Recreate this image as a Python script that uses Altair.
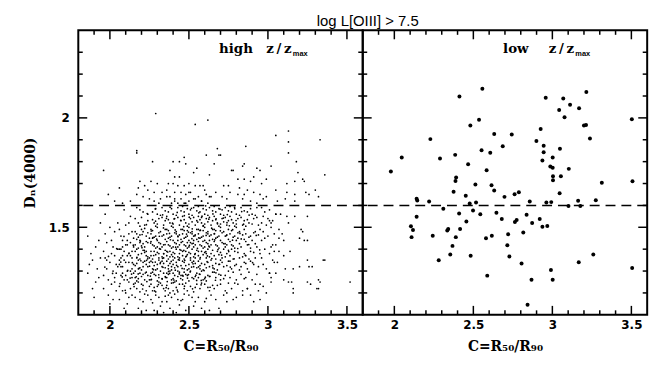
import altair as alt
import pandas as pd

title_text = ["log L[OIII] > 7.5"]
panel_words = ["high", "low"]
ratio_text = "z\u2009/\u2009z"
sub_text = "max"
x_title = "C=R\u2085\u2080/R\u2089\u2080"
y_title = "D\u2099(4000)"

x_domain = [1.8, 3.6]
y_domain = [1.1, 2.4]
x_major = [2.0, 2.5, 3.0, 3.5]
x_minor = [1.9, 2.1, 2.2, 2.3, 2.4, 2.6, 2.7, 2.8, 2.9, 3.1, 3.2, 3.3, 3.4]
y_major = [1.5, 2.0]
y_minor = [1.2, 1.3, 1.4, 1.6, 1.7, 1.8, 1.9, 2.1, 2.2, 2.3]
dash_level = [1.6]

# ---- high z/zmax panel ----
hi_top = [(2.29,2.02),(2.54,1.97),(2.62,1.99),(2.17,1.85),(3.05,1.92),(3.13,1.94),(3.13,1.89),(3.33,1.90),(2.86,1.87),(2.68,1.86),
          (2.27,1.80),(2.40,1.80),(2.44,1.80),(2.47,1.82),(2.48,1.79),(2.61,1.83),(2.69,1.83),(2.66,1.79),(2.85,1.79),(2.84,1.78),
          (2.78,1.76),(2.93,1.77),(2.95,1.76),(3.13,1.84),(3.18,1.80),(1.96,1.76),(2.38,1.76),(2.55,1.77),(3.02,1.78),(2.17,1.84),
          (2.70,1.83),(2.53,1.75),(3.19,1.75),(2.77,1.76)]
hi_upper = [(2.41,1.73),(2.44,1.73),(2.63,1.74),(2.19,1.71),(2.22,1.69),(2.26,1.71),(2.30,1.70),(2.37,1.70),(2.40,1.70),(2.43,1.69),
            (2.47,1.69),(2.50,1.70),(2.54,1.69),(2.57,1.69),(2.59,1.69),(2.06,1.68),(2.18,1.68),(2.24,1.67),(2.28,1.66),(2.33,1.66),
            (2.36,1.67),(2.41,1.66),(2.45,1.66),(2.48,1.65),(2.51,1.66),(2.56,1.64),(2.61,1.65),(2.64,1.64),(2.67,1.66),(1.99,1.65),
            (2.17,1.65),(2.21,1.64),(2.25,1.63),(2.32,1.63),(2.36,1.64),(2.41,1.63),(2.45,1.63),(2.50,1.62),(2.54,1.63),(2.58,1.62),
            (2.62,1.61),(2.03,1.62),(2.08,1.61),(2.13,1.62),(2.39,1.61),(2.43,1.61),(2.47,1.61),(3.36,1.74),(2.91,1.73),(2.99,1.72),
            (2.89,1.71),(2.85,1.72),(2.81,1.72),(2.96,1.70),(3.17,1.71),(3.22,1.72),(3.23,1.71),(3.12,1.70),(2.75,1.69),(2.72,1.69),
            (2.82,1.68),(2.87,1.67),(3.05,1.67),(3.12,1.66),(3.17,1.65),(3.24,1.66),(3.30,1.67),(3.26,1.65),(3.32,1.64),(2.76,1.66),
            (2.81,1.65),(2.85,1.65),(2.91,1.66),(2.95,1.65),(2.99,1.64),(2.71,1.64),(2.74,1.63),(2.84,1.63),(2.89,1.62),(2.97,1.63),
            (3.06,1.62),(3.11,1.63),(3.17,1.62),(2.93,1.61)]
hi_tail = [(3.01,1.53),(3.05,1.56),(3.08,1.56),(3.12,1.55),(3.17,1.55),(3.25,1.55),(3.02,1.52),(3.07,1.49),(3.21,1.49),(3.22,1.48),
           (3.20,1.45),(3.25,1.44),(3.23,1.44),(3.07,1.45),(3.10,1.44),(3.05,1.42),(3.02,1.41),(3.07,1.39),(3.10,1.37),(3.14,1.39),
           (3.35,1.35),(3.25,1.35),(3.20,1.32),(3.26,1.32),(3.28,1.32),(3.16,1.31),(3.11,1.31),(3.01,1.29),(3.05,1.29),(3.02,1.25),
           (3.10,1.26),(3.13,1.25),(3.16,1.22),(3.16,1.20),(3.25,1.25),(3.27,1.24),(3.32,1.26),(3.32,1.22),(3.52,1.25),(2.95,1.24),
           (2.87,1.22),(2.89,1.19),(2.84,1.19),(2.95,1.17),(2.91,1.16),(2.74,1.20),(3.36,1.35),(3.33,1.25),(3.15,1.25),(3.31,1.22),
           (3.09,1.47),(3.13,1.52),(3.06,1.34)]
hi_s19 = [(1.87,1.33),(1.91,1.41),(1.93,1.27),(1.89,1.22),(1.94,1.36),(1.86,1.46),(1.92,1.31),(1.90,1.18),(1.88,1.38),(1.94,1.52),
          (1.91,1.25),(1.93,1.44),(1.86,1.29),(1.89,1.35)]
hi_s20 = [(1.96,1.28),(2.02,1.41),(1.99,1.19),(2.04,1.33),(1.97,1.47),(2.01,1.24),(2.03,1.37),(1.98,1.31),(2.05,1.52),(2.00,1.15),
          (1.96,1.39),(2.03,1.27),(2.01,1.44),(1.98,1.35),(2.04,1.21),(2.02,1.30),(1.97,1.56),(2.05,1.40),(1.99,1.26),(2.03,1.48),
          (2.00,1.34),(1.96,1.22),(2.04,1.29),(2.01,1.38),(1.98,1.43),(2.02,1.17),(2.05,1.32),(1.97,1.36),(2.00,1.50),(2.03,1.25)]
hi_s21 = [(2.06,1.33),(2.11,1.42),(2.14,1.27),(2.08,1.21),(2.12,1.38),(2.07,1.46),(2.13,1.30),(2.09,1.35),(2.15,1.24),(2.10,1.51),
          (2.06,1.40),(2.12,1.18),(2.14,1.36),(2.08,1.29),(2.11,1.44),(2.07,1.32),(2.13,1.55),(2.09,1.26),(2.15,1.41),(2.10,1.34),
          (2.06,1.23),(2.12,1.47),(2.14,1.31),(2.08,1.37),(2.11,1.15),(2.07,1.28),(2.13,1.43),(2.09,1.39),(2.15,1.33),(2.10,1.20),
          (2.06,1.49),(2.12,1.25),(2.14,1.39),(2.08,1.44),(2.11,1.30),(2.07,1.36),(2.13,1.22),(2.09,1.58),(2.15,1.29),(2.10,1.42),
          (2.06,1.17),(2.12,1.34),(2.14,1.48),(2.08,1.32),(2.11,1.26),(2.07,1.40),(2.13,1.37),(2.09,1.13),(2.15,1.45),(2.10,1.28),
          (2.06,1.35),(2.12,1.52),(2.14,1.19),(2.08,1.41),(2.11,1.37)]
hi_s22 = [(2.18,1.13),(2.23,1.12),(2.16,1.18),(2.21,1.16),(2.24,1.19),(2.19,1.17),(2.22,1.195),(2.17,1.22),(2.20,1.24),(2.23,1.21),
          (2.16,1.245),(2.25,1.23),(2.19,1.205),(2.21,1.235),(2.18,1.25),(2.16,1.27),(2.19,1.29),(2.22,1.26),(2.24,1.28),(2.17,1.255),
          (2.20,1.275),(2.23,1.295),(2.18,1.265),(2.21,1.285),(2.25,1.26),(2.16,1.30),(2.18,1.31),(2.21,1.34),(2.24,1.32),(2.17,1.335),
          (2.20,1.305),(2.22,1.345),(2.16,1.325),(2.19,1.315),(2.23,1.33),(2.25,1.34),(2.18,1.35),(2.21,1.32),(2.17,1.36),(2.20,1.38),
          (2.23,1.37),(2.16,1.39),(2.19,1.355),(2.22,1.385),(2.24,1.365),(2.18,1.375),(2.21,1.395),(2.25,1.36),(2.17,1.40),(2.23,1.39),
          (2.16,1.42),(2.19,1.44),(2.22,1.41),(2.24,1.43),(2.18,1.405),(2.21,1.425),(2.17,1.445),(2.20,1.415),(2.23,1.435),(2.25,1.45),
          (2.19,1.43),(2.17,1.47),(2.20,1.49),(2.23,1.46),(2.16,1.48),(2.22,1.495),(2.19,1.465),(2.24,1.475),(2.18,1.455),(2.21,1.48),
          (2.18,1.52),(2.22,1.51),(2.16,1.54),(2.24,1.53),(2.20,1.545),(2.19,1.505),(2.21,1.57),(2.17,1.59),(2.24,1.56),(2.19,1.58)]
hi_s23 = [(2.28,1.12),(2.32,1.14),(2.34,1.11),(2.26,1.17),(2.29,1.19),(2.33,1.16),(2.31,1.18),(2.27,1.155),(2.35,1.185),(2.27,1.21),
          (2.30,1.23),(2.34,1.22),(2.26,1.24),(2.32,1.245),(2.29,1.205),(2.33,1.235),(2.28,1.225),(2.35,1.21),(2.26,1.26),(2.29,1.28),
          (2.31,1.27),(2.34,1.29),(2.27,1.295),(2.30,1.255),(2.33,1.265),(2.28,1.285),(2.32,1.30),(2.35,1.275),(2.26,1.29),(2.31,1.25),
          (2.27,1.31),(2.30,1.33),(2.33,1.32),(2.26,1.345),(2.29,1.305),(2.32,1.34),(2.35,1.315),(2.28,1.325),(2.31,1.35),(2.34,1.335),
          (2.27,1.34),(2.30,1.31),(2.33,1.345),(2.26,1.37),(2.28,1.39),(2.31,1.36),(2.34,1.38),(2.27,1.355),(2.30,1.385),(2.33,1.365),
          (2.35,1.395),(2.29,1.375),(2.32,1.40),(2.26,1.39),(2.31,1.38),(2.34,1.36),(2.27,1.42),(2.30,1.44),(2.33,1.41),(2.26,1.435),
          (2.29,1.405),(2.32,1.425),(2.35,1.445),(2.28,1.415),(2.31,1.43),(2.34,1.42),(2.27,1.45),(2.30,1.41),(2.26,1.47),(2.29,1.46),
          (2.32,1.48),(2.35,1.49),(2.28,1.455),(2.31,1.475),(2.34,1.465),(2.27,1.485),(2.30,1.50),(2.33,1.46),(2.26,1.49),(2.28,1.52),
          (2.31,1.54),(2.34,1.51),(2.27,1.535),(2.30,1.515),(2.33,1.545),(2.29,1.505),(2.35,1.53),(2.27,1.57),(2.30,1.56),(2.33,1.59),
          (2.29,1.585),(2.32,1.555),(2.35,1.575),(2.31,1.61),(2.28,1.62)]
hi_s24 = [(2.38,1.13),(2.42,1.11),(2.44,1.145),(2.36,1.16),(2.39,1.18),(2.43,1.17),(2.41,1.195),(2.37,1.19),(2.45,1.165),(2.37,1.22),
          (2.40,1.21),(2.44,1.24),(2.36,1.235),(2.42,1.225),(2.39,1.245),(2.43,1.205),(2.38,1.20),(2.41,1.25),(2.36,1.27),(2.39,1.26),
          (2.41,1.28),(2.44,1.295),(2.37,1.285),(2.40,1.265),(2.43,1.275),(2.38,1.30),(2.42,1.255),(2.45,1.28),(2.36,1.29),(2.40,1.29),
          (2.37,1.31),(2.40,1.33),(2.43,1.32),(2.36,1.345),(2.39,1.305),(2.42,1.34),(2.45,1.325),(2.38,1.335),(2.41,1.315),(2.44,1.35),
          (2.37,1.325),(2.40,1.35),(2.43,1.30),(2.39,1.32),(2.36,1.37),(2.38,1.39),(2.41,1.36),(2.44,1.38),(2.37,1.355),(2.40,1.385),
          (2.43,1.365),(2.45,1.395),(2.39,1.375),(2.42,1.40),(2.36,1.39),(2.41,1.38),(2.44,1.36),(2.38,1.365),(2.37,1.42),(2.40,1.44),
          (2.43,1.41),(2.36,1.435),(2.39,1.405),(2.42,1.425),(2.45,1.445),(2.38,1.415),(2.41,1.43),(2.44,1.42),(2.37,1.45),(2.40,1.41),
          (2.43,1.44),(2.36,1.47),(2.39,1.46),(2.42,1.48),(2.45,1.49),(2.38,1.455),(2.41,1.475),(2.44,1.465),(2.37,1.485),(2.40,1.50),
          (2.43,1.46),(2.36,1.49),(2.42,1.47),(2.38,1.52),(2.41,1.54),(2.44,1.51),(2.37,1.535),(2.40,1.515),(2.43,1.545),(2.39,1.505),
          (2.45,1.53),(2.36,1.55),(2.37,1.57),(2.40,1.56),(2.43,1.59),(2.39,1.585),(2.42,1.555),(2.45,1.575),(2.41,1.62),(2.38,1.64)]
hi_s25 = [(2.48,1.12),(2.53,1.14),(2.46,1.17),(2.50,1.19),(2.54,1.16),(2.52,1.18),(2.47,1.195),(2.49,1.21),(2.51,1.23),(2.46,1.24),
          (2.54,1.225),(2.48,1.245),(2.53,1.205),(2.47,1.22),(2.55,1.24),(2.46,1.26),(2.49,1.28),(2.52,1.27),(2.55,1.29),(2.47,1.295),
          (2.50,1.255),(2.53,1.265),(2.48,1.285),(2.51,1.30),(2.54,1.275),(2.46,1.28),(2.47,1.31),(2.50,1.33),(2.53,1.32),(2.46,1.345),
          (2.49,1.305),(2.52,1.34),(2.55,1.315),(2.48,1.325),(2.51,1.35),(2.54,1.335),(2.47,1.34),(2.50,1.31),(2.53,1.345),(2.46,1.37),
          (2.48,1.39),(2.51,1.36),(2.54,1.38),(2.47,1.355),(2.50,1.385),(2.53,1.365),(2.55,1.395),(2.49,1.375),(2.52,1.40),(2.46,1.39),
          (2.51,1.38),(2.54,1.36),(2.48,1.365),(2.47,1.42),(2.50,1.44),(2.53,1.41),(2.46,1.435),(2.49,1.405),(2.52,1.425),(2.55,1.445),
          (2.48,1.415),(2.51,1.43),(2.54,1.42),(2.47,1.45),(2.50,1.41),(2.53,1.44),(2.49,1.43),(2.46,1.47),(2.49,1.46),(2.52,1.48),
          (2.55,1.49),(2.48,1.455),(2.51,1.475),(2.54,1.465),(2.47,1.485),(2.50,1.50),(2.53,1.46),(2.46,1.49),(2.52,1.47),(2.49,1.485),
          (2.48,1.52),(2.51,1.54),(2.54,1.51),(2.47,1.535),(2.50,1.515),(2.53,1.545),(2.49,1.505),(2.55,1.53),(2.46,1.55),(2.52,1.525),
          (2.47,1.57),(2.50,1.56),(2.53,1.59),(2.49,1.585),(2.52,1.555),(2.55,1.575),(2.46,1.595),(2.51,1.58),(2.48,1.61),(2.53,1.63),
          (2.50,1.66)]
hi_s26 = [(2.58,1.13),(2.63,1.12),(2.56,1.18),(2.60,1.16),(2.64,1.19),(2.61,1.175),(2.57,1.22),(2.60,1.24),(2.63,1.21),(2.65,1.235),
          (2.58,1.245),(2.62,1.225),(2.56,1.27),(2.59,1.26),(2.62,1.28),(2.65,1.295),(2.57,1.285),(2.60,1.265),(2.63,1.275),(2.58,1.30),
          (2.61,1.255),(2.57,1.31),(2.60,1.33),(2.63,1.32),(2.56,1.345),(2.59,1.305),(2.62,1.34),(2.65,1.325),(2.58,1.335),(2.61,1.315),
          (2.64,1.35),(2.57,1.325),(2.56,1.37),(2.58,1.39),(2.61,1.36),(2.64,1.38),(2.57,1.355),(2.60,1.385),(2.63,1.365),(2.65,1.395),
          (2.59,1.375),(2.62,1.40),(2.56,1.39),(2.61,1.38),(2.57,1.42),(2.60,1.44),(2.63,1.41),(2.56,1.435),(2.59,1.405),(2.62,1.425),
          (2.65,1.445),(2.58,1.415),(2.61,1.43),(2.64,1.42),(2.57,1.45),(2.60,1.41),(2.63,1.44),(2.56,1.47),(2.59,1.46),(2.62,1.48),
          (2.65,1.49),(2.58,1.455),(2.61,1.475),(2.64,1.465),(2.57,1.485),(2.60,1.50),(2.63,1.46),(2.56,1.49),(2.62,1.47),(2.59,1.485),
          (2.58,1.52),(2.61,1.54),(2.64,1.51),(2.57,1.535),(2.60,1.515),(2.63,1.545),(2.59,1.505),(2.65,1.53),(2.56,1.55),(2.62,1.525),
          (2.58,1.545),(2.57,1.57),(2.60,1.56),(2.63,1.59),(2.59,1.585),(2.62,1.555),(2.65,1.575),(2.56,1.595),(2.61,1.58),(2.58,1.62),
          (2.63,1.64),(2.60,1.67)]
hi_s27 = [(2.69,1.13),(2.67,1.17),(2.72,1.19),(2.74,1.16),(2.66,1.22),(2.70,1.24),(2.73,1.21),(2.68,1.235),(2.75,1.245),(2.67,1.27),
          (2.70,1.26),(2.73,1.28),(2.66,1.295),(2.69,1.285),(2.72,1.265),(2.75,1.30),(2.66,1.31),(2.69,1.33),(2.72,1.32),(2.75,1.345),
          (2.68,1.305),(2.71,1.34),(2.74,1.325),(2.67,1.335),(2.70,1.35),(2.66,1.37),(2.68,1.39),(2.71,1.36),(2.74,1.38),(2.67,1.355),
          (2.70,1.385),(2.73,1.365),(2.75,1.395),(2.69,1.375),(2.72,1.40),(2.67,1.42),(2.70,1.44),(2.73,1.41),(2.66,1.435),(2.69,1.405),
          (2.72,1.425),(2.75,1.445),(2.68,1.415),(2.71,1.43),(2.74,1.42),(2.67,1.45),(2.66,1.47),(2.69,1.46),(2.72,1.48),(2.75,1.49),
          (2.68,1.455),(2.71,1.475),(2.74,1.465),(2.67,1.485),(2.70,1.50),(2.73,1.46),(2.66,1.49),(2.68,1.52),(2.71,1.54),(2.74,1.51),
          (2.67,1.535),(2.70,1.515),(2.73,1.545),(2.69,1.505),(2.75,1.53),(2.66,1.55),(2.72,1.525),(2.67,1.57),(2.70,1.56),(2.73,1.59),
          (2.69,1.585),(2.72,1.555),(2.75,1.575),(2.66,1.595),(2.71,1.58)]
hi_s28 = [(2.78,1.17),(2.80,1.18),(2.77,1.22),(2.81,1.24),(2.84,1.21),(2.79,1.245),(2.76,1.27),(2.80,1.26),(2.83,1.285),(2.78,1.295),
          (2.85,1.265),(2.77,1.31),(2.80,1.33),(2.83,1.32),(2.76,1.345),(2.82,1.305),(2.85,1.34),(2.79,1.325),(2.76,1.37),(2.79,1.39),
          (2.82,1.36),(2.85,1.38),(2.78,1.355),(2.81,1.385),(2.84,1.365),(2.77,1.40),(2.77,1.42),(2.80,1.44),(2.83,1.41),(2.76,1.435),
          (2.79,1.405),(2.82,1.425),(2.85,1.445),(2.78,1.415),(2.81,1.45),(2.76,1.47),(2.79,1.46),(2.82,1.48),(2.85,1.49),(2.78,1.455),
          (2.81,1.475),(2.84,1.465),(2.77,1.485),(2.80,1.50),(2.78,1.52),(2.81,1.54),(2.84,1.51),(2.77,1.535),(2.80,1.515),(2.83,1.545),
          (2.79,1.505),(2.85,1.53),(2.76,1.55),(2.77,1.57),(2.80,1.56),(2.83,1.59),(2.79,1.585),(2.82,1.555),(2.85,1.575),(2.76,1.595)]
hi_s29 = [(2.87,1.22),(2.92,1.24),(2.94,1.21),(2.86,1.27),(2.90,1.26),(2.93,1.285),(2.88,1.295),(2.87,1.31),(2.91,1.33),(2.94,1.32),
          (2.89,1.345),(2.86,1.335),(2.86,1.37),(2.89,1.39),(2.92,1.36),(2.95,1.38),(2.88,1.355),(2.91,1.385),(2.87,1.42),(2.90,1.44),
          (2.93,1.41),(2.86,1.435),(2.92,1.425),(2.89,1.405),(2.86,1.47),(2.89,1.46),(2.92,1.48),(2.95,1.49),(2.88,1.455),(2.91,1.475),
          (2.94,1.465),(2.88,1.52),(2.91,1.54),(2.94,1.51),(2.87,1.535),(2.90,1.515),(2.93,1.545),(2.86,1.505),(2.87,1.57),(2.90,1.56),
          (2.93,1.59),(2.89,1.585),(2.92,1.555)]
hi_s30 = [(2.97,1.23),(3.02,1.27),(2.99,1.31),(3.04,1.34),(2.96,1.36),(3.01,1.38),(2.98,1.40),(3.03,1.42),(2.96,1.44),(3.00,1.46),
          (3.04,1.47),(2.97,1.48),(3.02,1.50),(2.99,1.51),(2.96,1.52),(3.03,1.53),(3.00,1.54),(2.97,1.55),(3.05,1.56),(2.98,1.57),
          (3.01,1.58),(2.96,1.59),(3.03,1.35),(2.98,1.45),(3.01,1.29),(2.99,1.20),(3.04,1.39),(2.97,1.33)]
hi_core = [(2.113,1.303),(2.142,1.338),(2.167,1.274),(2.196,1.347),(2.224,1.291),(2.251,1.322),(2.263,1.262),(2.287,1.341),(2.309,1.283),(2.336,1.317),
           (2.352,1.271),(2.371,1.298),(2.388,1.344),(2.405,1.259),(2.422,1.326),(2.439,1.287),(2.457,1.312),(2.474,1.349),(2.491,1.268),(2.508,1.296),
           (2.526,1.333),(2.544,1.281),(2.561,1.319),(2.578,1.257),(2.596,1.302),(2.615,1.343),(2.633,1.276),(2.652,1.314),(2.671,1.292),(2.694,1.331),
           (2.137,1.286),(2.184,1.312),(2.232,1.349),(2.276,1.306),(2.318,1.334),(2.363,1.252),(2.414,1.304),(2.463,1.277),(2.517,1.318),(2.566,1.286),
           (2.121,1.382),(2.148,1.418),(2.171,1.363),(2.193,1.437),(2.218,1.394),(2.239,1.356),(2.258,1.428),(2.277,1.371),(2.296,1.446),(2.314,1.402),
           (2.333,1.358),(2.349,1.421),(2.366,1.387),(2.383,1.443),(2.398,1.366),(2.416,1.409),(2.433,1.352),(2.451,1.431),(2.468,1.394),(2.484,1.368),
           (2.503,1.417),(2.519,1.448),(2.537,1.376),(2.554,1.404),(2.572,1.361),(2.589,1.436),(2.607,1.389),(2.626,1.414),(2.645,1.357),(2.663,1.442),
           (2.684,1.398),(2.707,1.373),(2.729,1.425),(2.752,1.389),(2.776,1.441),(2.203,1.407),(2.341,1.379),(2.443,1.398),(2.528,1.427),(2.617,1.369),
           (2.204,1.467),(2.231,1.512),(2.262,1.483),(2.289,1.528),(2.313,1.459),(2.339,1.497),(2.358,1.541),(2.377,1.472),(2.396,1.519),(2.413,1.488),
           (2.431,1.457),(2.448,1.532),(2.467,1.503),(2.485,1.469),(2.502,1.546),(2.521,1.493),(2.538,1.461),(2.556,1.524),(2.573,1.487),(2.591,1.508),
           (2.609,1.463),(2.626,1.537),(2.644,1.496),(2.662,1.471),(2.681,1.516),(2.699,1.484),(2.718,1.542),(2.737,1.462),(2.756,1.507),(2.777,1.489),
           (2.798,1.531),(2.823,1.472),(2.846,1.514),(2.272,1.453),(2.406,1.538),(2.497,1.478),(2.583,1.551),(2.672,1.539),(2.741,1.521),(2.562,1.452),
           (2.064,1.243),(2.097,1.212),(2.128,1.268),(2.153,1.229),(2.179,1.287),(2.207,1.218),(2.234,1.252),(2.256,1.277),(2.283,1.209),(2.307,1.238),
           (2.331,1.264),(2.356,1.224),(2.378,1.289),(2.401,1.247),(2.426,1.213),(2.448,1.266),(2.472,1.231),(2.497,1.284),(2.523,1.219),(2.549,1.257),
           (2.577,1.237),(2.604,1.272),(2.634,1.226),(2.668,1.258),(2.702,1.281),
           (2.236,1.563),(2.287,1.584),(2.334,1.557),(2.381,1.592),(2.426,1.568),(2.471,1.553),(2.516,1.587),(2.563,1.566),(2.606,1.598),(2.652,1.561),
           (2.697,1.583),(2.743,1.558),(2.789,1.591),(2.834,1.572),(2.881,1.556),
           (2.762,1.318),(2.786,1.356),(2.809,1.403),(2.831,1.447),(2.857,1.372),(2.879,1.421),(2.903,1.338),(2.926,1.463),(2.948,1.397),(1.968,1.318),
           (1.991,1.367),(2.017,1.289),(2.043,1.402),(2.069,1.341),(2.089,1.458),(2.078,1.273)]

# ---- low z/zmax panel ----
low_pts = [(2.412,2.098),(2.557,2.133),(2.958,2.092),(3.069,2.089),(3.215,2.118),(3.043,2.036),(3.112,2.060),(3.169,2.044),
           (3.077,2.003),(3.503,1.994),(2.536,1.991),(2.481,1.965),(3.200,1.965),(3.213,1.967),(2.632,1.926),(2.743,1.924),
           (2.926,1.949),(2.228,1.903),(3.238,1.906),(2.899,1.894),(2.686,1.870),(2.945,1.873),(2.552,1.852),(2.607,1.841),
           (2.945,1.843),(3.048,1.859),(2.047,1.819),(2.289,1.814),(2.385,1.831),(2.467,1.788),(2.937,1.805),(3.002,1.819),
           (2.584,1.761),(2.987,1.778),(3.002,1.772),(3.104,1.767),(1.978,1.755),(2.391,1.728),(2.387,1.712),(3.004,1.733),
           (3.054,1.733),(3.004,1.715),(2.513,1.696),(2.615,1.692),(2.632,1.668),(3.313,1.704),(3.507,1.710),(2.375,1.662),
           (2.452,1.644),(2.697,1.639),(2.761,1.651),(2.788,1.660),(3.046,1.656),(2.141,1.630),(2.145,1.622),(2.220,1.618),
           (2.477,1.609),(2.517,1.613),(2.857,1.618),(2.962,1.613),(2.993,1.615),(3.163,1.621),(3.275,1.624),(3.102,1.597),
           (3.177,1.597),(2.310,1.585),(2.498,1.577),(2.410,1.563),(2.544,1.560),(2.646,1.566),(2.837,1.557),(2.141,1.548),
           (2.680,1.538),(2.456,1.526),(2.763,1.524),(2.774,1.533),(2.872,1.520),(2.920,1.538),(2.105,1.505),(2.118,1.488),
           (2.341,1.492),(2.335,1.485),(2.416,1.492),(2.937,1.502),(2.968,1.506),(2.816,1.476),(2.720,1.468),(2.109,1.455),
           (2.243,1.461),(2.389,1.455),(2.580,1.450),(2.617,1.461),(2.368,1.415),(2.715,1.418),(2.354,1.376),(2.483,1.370),
           (2.728,1.366),(2.281,1.349),(2.805,1.334),(3.167,1.340),(3.259,1.376),(2.991,1.305),(3.505,1.314),(2.588,1.279),
           (2.868,1.260),(3.002,1.260),(2.843,1.146)]

hi_all = (hi_top + hi_upper + hi_tail + hi_s19 + hi_s20 + hi_s21 + hi_s22 + hi_s23 + hi_s24 + hi_s25
          + hi_s26 + hi_s27 + hi_s28 + hi_s29 + hi_s30 + hi_core)
df_hi = pd.DataFrame(hi_all, columns=["x", "y"])
df_lo = pd.DataFrame(low_pts, columns=["x", "y"])

W = 287
H = 287
MAJ = 9
MIN = 4.5
xs = alt.Scale(domain=x_domain, nice=False, zero=False)
ys = alt.Scale(domain=y_domain, nice=False, zero=False)

x_axis = alt.Axis(values=x_major, format="~g", title=x_title, labelPadding=5,
                  titlePadding=9, labelFlush=False, labelOverlap=False)
y_axis = alt.Axis(values=y_major, format="~g", title=y_title, labelPadding=9,
                  titlePadding=11, labelFlush=False, labelOverlap=False)


def tick_layers(yax):
    out = []
    for vals, L in ((x_major, MAJ), (x_minor, MIN)):
        base = alt.Chart(pd.DataFrame({"x": vals})).mark_rule(color="black", strokeWidth=1.5)
        out.append(base.encode(x=alt.X("x:Q", scale=xs, axis=x_axis), y=alt.value(H), y2=alt.value(H - L)))
        out.append(base.encode(x=alt.X("x:Q", scale=xs, axis=x_axis), y=alt.value(0), y2=alt.value(L)))
    for vals, L in ((y_major, MAJ), (y_minor, MIN)):
        base = alt.Chart(pd.DataFrame({"y": vals})).mark_rule(color="black", strokeWidth=1.5)
        out.append(base.encode(y=alt.Y("y:Q", scale=ys, axis=yax), x=alt.value(0), x2=alt.value(L)))
        out.append(base.encode(y=alt.Y("y:Q", scale=ys, axis=yax), x=alt.value(W), x2=alt.value(W - L)))
    return out


def txt(s, x, y, size, font, weight, align):
    return alt.Chart(pd.DataFrame({"t": [s]})).mark_text(
        align=align, baseline="alphabetic", fontSize=size, font=font,
        fontWeight=weight, color="black"
    ).encode(text="t:N", x=alt.value(x), y=alt.value(y))


def dashed(yax):
    return alt.Chart(pd.DataFrame({"y": dash_level})).mark_rule(
        color="black", strokeWidth=1.5, strokeDash=[10, 6]
    ).encode(y=alt.Y("y:Q", scale=ys, axis=yax))


pts_hi = alt.Chart(df_hi).mark_circle(size=3, color="black", opacity=1).encode(
    x=alt.X("x:Q", scale=xs, axis=x_axis),
    y=alt.Y("y:Q", scale=ys, axis=y_axis),
)
pts_lo = alt.Chart(df_lo).mark_circle(size=16, color="black", opacity=1).encode(
    x=alt.X("x:Q", scale=xs, axis=x_axis),
    y=alt.Y("y:Q", scale=ys, axis=None),
)

left = alt.layer(
    pts_hi, dashed(y_axis), *tick_layers(y_axis),
    txt(panel_words[0], 142, 22.7, 13.5, "DejaVu Serif", "bold", "left"),
    txt(ratio_text, 215.3, 22.7, 13.5, "DejaVu Serif", "bold", "right"),
    txt(sub_text, 216.5, 26.2, 7.5, "Liberation Sans", "bold", "left"),
    txt(title_text[0], 292, -4.3, 15, "Liberation Sans", "normal", "center"),
).properties(width=W, height=H)

right = alt.layer(
    pts_lo, dashed(None), *tick_layers(None),
    txt(panel_words[1], 141.6, 22.7, 13.5, "DejaVu Serif", "bold", "left"),
    txt(ratio_text, 213.3, 22.7, 13.5, "DejaVu Serif", "bold", "right"),
    txt(sub_text, 214.5, 26.2, 7.5, "Liberation Sans", "bold", "left"),
).properties(width=W, height=H)

chart = alt.hconcat(left, right, spacing=0, bounds="flush").properties(
    padding={"left": 22, "top": 11, "right": 18, "bottom": 8}
).configure_view(
    stroke="black", strokeWidth=2
).configure_axis(
    labelFont="DejaVu Sans", labelFontSize=12, labelFontWeight="bold", labelColor="black",
    titleFont="DejaVu Serif", titleFontSize=14, titleFontWeight="bold", titleColor="black",
    grid=False, ticks=False, domain=False,
)

chart.save("out.html", embed_options={"renderer": "svg", "actions": False})
